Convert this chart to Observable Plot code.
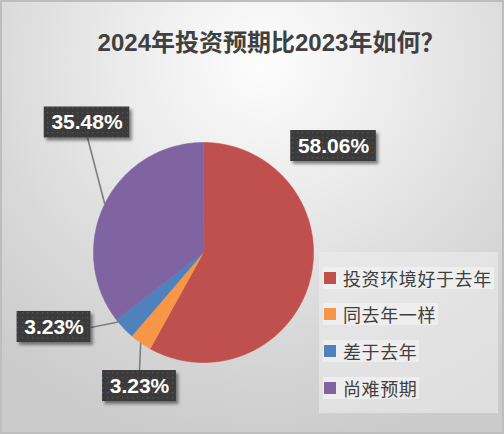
<!DOCTYPE html>
<html><head><meta charset="utf-8">
<script src="https://cdn.jsdelivr.net/npm/d3@7"></script>
<script src="https://cdn.jsdelivr.net/npm/@observablehq/plot@0.6"></script>
<style>
html,body{margin:0;padding:0;background:#fff;}
#chart{position:relative;width:504px;height:434px;overflow:hidden;
  background:radial-gradient(ellipse 80% 90% at 52% 14%, #fdfdfd 0%, #eeeeee 30%, #d8d8d8 70%, #cbcbcb 100%);
  box-shadow:inset 0 0 0 2px #bdbdbd;}
#chart svg{position:absolute;left:0;top:0;}
#title{position:absolute;left:0;width:542px;top:30px;text-align:center;font:bold 24px/26px "Liberation Sans","Noto Sans CJK SC",sans-serif;color:#404040;white-space:nowrap;}
#legend{position:absolute;left:319px;top:252px;width:179px;height:161px;background:rgba(236,236,236,0.6);}
.item{position:absolute;left:4px;height:22px;display:flex;align-items:center;background:rgba(242,242,242,0.75);padding-right:2px;}
.sw{width:12px;height:12px;margin-left:1px;margin-right:7px;}
.lt{font:18px/22px "Noto Sans CJK SC",sans-serif;color:#404040;letter-spacing:0.6px;}
</style></head><body>
<div id="chart"></div>
<script>
// ---- data ----
const title = "2024年投资预期比2023年如何？";
const categories = ["投资环境好于去年", "同去年一样", "差于去年", "尚难预期"];
const values = [58.06, 3.23, 3.23, 35.48];
const labels = ["58.06%", "3.23%", "3.23%", "35.48%"];
const colors = ["#C0504D", "#F79646", "#4F81BD", "#8064A2"];

// ---- layout (pie-radius units, y up) ----
const labelPos = [[1.182, 0.968], [-0.582, -1.214], [-1.359, -0.677], [-1.059, 1.182]];
const leaderStart = [null, [-0.582, -1.073], [-1.027, -0.682], [-1.055, 1.045]];
const leaderFrac = [null, 0.5, 0.87, 0.5];

const arcs = d3.pie().sort(null).value(d => d)(values);
const slicePts = [];
arcs.forEach((a, i) => {
  slicePts.push({cat: categories[i], x: 0, y: 0});
  const n = Math.max(2, Math.ceil((a.endAngle - a.startAngle) / 0.01));
  for (let k = 0; k <= n; k++) {
    const t = a.startAngle + (a.endAngle - a.startAngle) * k / n;
    slicePts.push({cat: categories[i], x: Math.sin(t), y: Math.cos(t)});
  }
});
const leaders = [];
arcs.forEach((a, i) => {
  if (!leaderStart[i]) return;
  const t = a.startAngle + (a.endAngle - a.startAngle) * leaderFrac[i];
  leaders.push({x1: leaderStart[i][0], y1: leaderStart[i][1], x2: Math.sin(t), y2: Math.cos(t)});
});
const labelData = labels.map((l, i) => ({text: l, x: labelPos[i][0], y: labelPos[i][1]}));

const chart = Plot.plot({
  width: 504, height: 434, margin: 0,
  x: {domain: [-1, 1], range: [93, 313], axis: null},
  y: {domain: [-1, 1], range: [362, 142], axis: null},
  color: {domain: categories, range: colors},
  style: {background: "transparent", overflow: "visible"},
  marks: [
    Plot.line(slicePts, {x: "x", y: "y", z: "cat", fill: "cat", stroke: "cat", strokeWidth: 0.6, curve: "linear-closed"}),
    Plot.link(leaders, {x1: "x1", y1: "y1", x2: "x2", y2: "y2", stroke: "#7f7f7f", strokeWidth: 1.6}),
    Plot.text(labelData, {x: "x", y: "y", text: "text", fill: "white", fontSize: 21, fontWeight: "bold",
      fontFamily: "'Liberation Sans', Arial, sans-serif"})
  ]
});
const root = document.getElementById("chart");
root.appendChild(chart);

// title
const tdiv = document.createElement("div");
tdiv.id = "title"; tdiv.textContent = title; root.appendChild(tdiv);

// legend
const leg = document.createElement("div"); leg.id = "legend";
const rowTops = [15, 51, 88, 125];
categories.forEach((c, i) => {
  const it = document.createElement("div"); it.className = "item"; it.style.top = rowTops[i] + "px";
  const sw = document.createElement("div"); sw.className = "sw"; sw.style.background = colors[i];
  const lt = document.createElement("span"); lt.className = "lt"; lt.textContent = c;
  it.appendChild(sw); it.appendChild(lt); leg.appendChild(it);
});
root.appendChild(leg);

// label boxes
const svg = d3.select(chart);
const defs = svg.insert("defs", ":first-child");
const pat = defs.append("pattern").attr("id", "dots").attr("patternUnits", "userSpaceOnUse")
  .attr("width", 5).attr("height", 5);
pat.append("rect").attr("width", 5).attr("height", 5).attr("fill", "#3a3a3a");
pat.append("rect").attr("x", 2).attr("y", 2).attr("width", 1.3).attr("height", 1.3).attr("fill", "#555");
const f = defs.append("filter").attr("id", "sh").attr("x", "-20%").attr("y", "-30%").attr("width", "150%").attr("height", "170%");
f.append("feDropShadow").attr("dx", 2.5).attr("dy", 3).attr("stdDeviation", 1.8).attr("flood-color", "#000").attr("flood-opacity", 0.45);

const textG = chart.querySelector('g[aria-label="text"]');
const sx = chart.scale("x"), sy = chart.scale("y");
const boxG = document.createElementNS("http://www.w3.org/2000/svg", "g");
textG.parentNode.insertBefore(boxG, textG);
textG.querySelectorAll("text").forEach((t, i) => {
  const r = t.getBoundingClientRect();
  const cx = sx.apply(labelData[i].x), cy = sy.apply(labelData[i].y);
  const w = r.width + 14, h = 31;
  d3.select(boxG).append("rect").attr("x", cx - w / 2).attr("y", cy - h / 2)
    .attr("width", w).attr("height", h).attr("fill", "url(#dots)").attr("filter", "url(#sh)");
});
</script>
</body></html>
